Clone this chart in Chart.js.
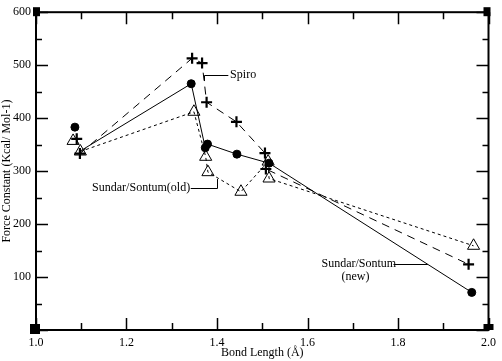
<!DOCTYPE html>
<html>
<head>
<meta charset="utf-8">
<script src="https://cdn.jsdelivr.net/npm/chart.js@4/dist/chart.umd.min.js"></script>
<style>
html,body{margin:0;padding:0;background:#fff;}
canvas{display:block;}
</style>
</head>
<body>
<canvas id="c" width="502" height="361"></canvas>
<script>
// ---- data ----
// Circle series (solid line); the first point is not joined to the line
const circleX = [1.086, 1.098, 1.343, 1.374, 1.379, 1.444, 1.515, 1.963];
const circleY = [383, 338, 465, 344, 351, 332, 315, 71];
// Plus series (dashed line)
const plusX = [1.090, 1.097, 1.345, 1.367, 1.377, 1.443, 1.506, 1.508, 1.956];
const plusY = [361, 333, 513, 504, 430, 393, 334, 304, 124];
// Triangle series (dotted line)
const triX = [1.082, 1.098, 1.349, 1.375, 1.380, 1.453, 1.513, 1.515, 1.967];
const triY = [357, 337, 412, 327, 298, 261, 318, 286, 159];

const xMajorTicks = [1.0, 1.2, 1.4, 1.6, 1.8, 2.0];
const xMinorTicks = [1.1, 1.3, 1.5, 1.7, 1.9];
const yMajorTicks = [0, 100, 200, 300, 400, 500, 600];
const yMinorTicks = [50, 150, 250, 350, 450, 550];

const xTitle = 'Bond Length (\u00C5)';
const yTitle = 'Force Constant (Kcal/ Mol-1)';
const labelSpiro = 'Spiro';
const labelOld = 'Sundar/Sontum(old)';
const labelNew1 = 'Sundar/Sontum';
const labelNew2 = '(new)';

function pts(xs, ys){ return xs.map((x,i)=>({x:x, y:ys[i]})); }
const skipFirst = { borderColor: ctx => ctx.p0DataIndex === 0 ? 'rgba(0,0,0,0)' : undefined };

const FONT = '"Liberation Serif", "Times New Roman", serif';

const frame = {
  id: 'frame',
  beforeDraw(chart){
    const c = chart.ctx;
    c.save(); c.fillStyle = '#fff'; c.fillRect(0,0,chart.width,chart.height); c.restore();
  },
  afterDatasetsDraw(chart){
    const c = chart.ctx, a = chart.chartArea, xs = chart.scales.x, ys = chart.scales.y;
    c.save();
    c.strokeStyle = '#000'; c.fillStyle = '#000';
    // box
    c.lineWidth = 2;
    c.strokeRect(a.left, a.top, a.right - a.left, a.bottom - a.top);
    // ticks, inward on all sides
    c.lineWidth = 1.5;
    c.beginPath();
    const tx = (v, len) => { const p = Math.round(xs.getPixelForValue(v)) + 0.5;
      c.moveTo(p, a.bottom); c.lineTo(p, a.bottom - len);
      c.moveTo(p, a.top); c.lineTo(p, a.top + len); };
    const ty = (v, len) => { const p = Math.round(ys.getPixelForValue(v)) + 0.5;
      c.moveTo(a.left, p); c.lineTo(a.left + len, p);
      c.moveTo(a.right, p); c.lineTo(a.right - len, p); };
    xMajorTicks.forEach(v => tx(v, 12));
    xMinorTicks.forEach(v => tx(v, 7));
    yMajorTicks.forEach(v => ty(v, 12));
    yMinorTicks.forEach(v => ty(v, 6));
    c.stroke();
    // corner handles
    c.fillRect(a.left - 3, a.top - 5, 7, 9);
    c.fillRect(a.right - 5, a.top - 5, 7, 9);
    c.fillRect(a.left - 6, a.bottom - 6, 10, 10);
    c.fillRect(a.right - 5, a.bottom - 6, 10, 6);

    // annotations
    const X = v => xs.getPixelForValue(v), Y = v => ys.getPixelForValue(v);
    c.lineWidth = 1;
    c.beginPath();
    // Spiro connector
    c.moveTo(Math.round(X(1.372))+0.5, Y(470)); c.lineTo(Math.round(X(1.372))+0.5, Math.round(Y(481))+0.5);
    c.lineTo(X(1.425), Math.round(Y(481))+0.5);
    // old connector
    c.moveTo(X(1.342), Math.round(Y(268))+0.5); c.lineTo(Math.round(X(1.400))+0.5, Math.round(Y(268))+0.5);
    c.lineTo(Math.round(X(1.400))+0.5, Y(285));
    // new connector
    c.moveTo(X(1.790), Math.round(Y(124))+0.5); c.lineTo(X(1.866), Math.round(Y(124))+0.5);
    c.stroke();
    c.font = '12px ' + FONT;
    c.textBaseline = 'middle';
    c.textAlign = 'left';
    c.fillText(labelSpiro, X(1.429), Y(481));
    c.fillText(labelNew1, X(1.631), Y(124));
    c.textAlign = 'right';
    c.fillText(labelOld, X(1.3406), Y(268));
    c.textAlign = 'center';
    c.fillText(labelNew2, X(1.706), Y(101));
    c.restore();
  }
};

new Chart(document.getElementById('c'), {
  type: 'scatter',
  data: {
    datasets: [
      { data: pts(circleX, circleY), showLine: true, borderColor: '#000', borderWidth: 1,
        pointStyle: 'circle', pointRadius: ctx => ctx.dataIndex === 1 ? 0 : 4,
        pointBackgroundColor: '#000', pointBorderColor: '#000', pointBorderWidth: 1,
        segment: skipFirst },
      { data: pts(plusX, plusY), showLine: true, borderColor: '#000', borderWidth: 1, borderDash: [8, 6],
        pointStyle: 'cross', pointRadius: 5.5, pointBorderWidth: 2.2,
        pointBorderColor: '#000', pointBackgroundColor: '#000',
        segment: skipFirst },
      { data: pts(triX, triY), showLine: true, borderColor: '#000', borderWidth: 1, borderDash: [3, 3],
        pointStyle: 'triangle', pointRadius: 7, pointBorderWidth: 1,
        pointBorderColor: '#000', pointBackgroundColor: 'rgba(255,255,255,0)',
        segment: skipFirst }
    ]
  },
  options: {
    responsive: false,
    animation: false,
    events: [],
    layout: { autoPadding: false, padding: { top: 6, right: 5, left: 0, bottom: 0 } },
    plugins: { legend: { display: false }, tooltip: { enabled: false } },
    scales: {
      x: {
        type: 'linear', min: 1.0, max: 2.0,
        afterFit: s => { s.height = 31; },
        afterBuildTicks: s => { s.ticks = xMajorTicks.map(v => ({ value: v })); },
        grid: { display: false, drawTicks: false },
        border: { display: false },
        ticks: { padding: 6, color: '#000', maxRotation: 0, autoSkip: false,
          font: { family: FONT, size: 12 }, callback: v => Number(v).toFixed(1) },
        title: { display: true, text: xTitle, color: '#000', padding: { top: 0, bottom: 1 },
          font: { family: FONT, size: 12 } }
      },
      y: {
        type: 'linear', min: 0, max: 600,
        afterFit: s => { s.width = 36; },
        afterBuildTicks: s => { s.ticks = yMajorTicks.map(v => ({ value: v })); },
        grid: { display: false, drawTicks: false },
        border: { display: false },
        ticks: { padding: 5, color: '#000', autoSkip: false,
          font: { family: FONT, size: 12 }, callback: v => v === 0 ? '' : String(v) },
        title: { display: true, text: yTitle, color: '#000', padding: { top: 0, bottom: 0 },
          font: { family: FONT, size: 12 } }
      }
    }
  },
  plugins: [frame]
});
</script>
</body>
</html>
